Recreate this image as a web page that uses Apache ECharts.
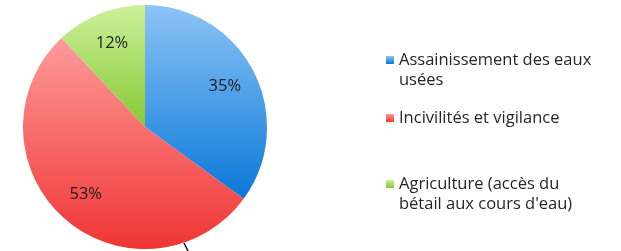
<!DOCTYPE html>
<html><head><meta charset="utf-8">
<script src="https://cdn.jsdelivr.net/npm/echarts@6/dist/echarts.min.js"></script>
<style>html,body{margin:0;padding:0;background:#fff}#c{width:621px;height:251px}</style>
</head><body><div id="c"></div>
<script>
const categories = ['Assainissement des eaux\nusées', 'Incivilités et vigilance', 'Agriculture (accès du\nbétail aux cours d\'eau)'];
const values = [35, 53, 12];
const labels = ['35%', '53%', '12%'];

const grads = [
  ['#8cc4f5', '#0a78d8'],
  ['#ff9a9a', '#f03535'],
  ['#cdf09a', '#86c935']
];
function grad(i) {
  return new echarts.graphic.LinearGradient(0, 0, 0, 1, [
    {offset: 0, color: grads[i][0]}, {offset: 1, color: grads[i][1]}
  ]);
}
const chart = echarts.init(document.getElementById('c'), null, {renderer: 'canvas'});
const R = 122;
const data = categories.map((n, i) => ({name: n, value: values[i], itemStyle: {color: grad(i)}}));
const labelData = categories.map((n, i) => ({name: n, value: values[i], label: {formatter: labels[i]}}));
const font = 'Open Sans, DejaVu Sans, sans-serif';
const legendTops = [30, 108, 154];
const tStyle = {fontFamily: font, fontSize: 16.5, color: '#262626', lineHeight: 20};
chart.setOption({
  animation: false,
  legend: categories.map((n, i) => ({
    data: [{name: n, icon: 'rect'}],
    formatter: (name) => name.indexOf('\n') >= 0 ? '\u00a0\n' + name : name,
    left: 386, top: legendTops[i],
    orient: 'vertical', itemWidth: 8, itemHeight: 8, itemGap: 8,
    selectedMode: false, padding: 0,
    textStyle: Object.assign({}, tStyle)
  })),
  graphic: [{type: 'line', shape: {x1: 184, y1: 243, x2: 188, y2: 251}, style: {stroke: '#111', lineWidth: 1.5}}],
  series: [{
    type: 'pie', center: [145, 127], radius: [0, R], startAngle: 90, clockwise: true,
    label: {show: false}, labelLine: {show: false}, silent: true,
    itemStyle: {borderWidth: 0},
    data: data
  }, {
    type: 'pie', center: [145, 127], radius: [R * 0.42, R], startAngle: 90, clockwise: true,
    itemStyle: {color: 'rgba(0,0,0,0)'}, silent: true, labelLine: {show: false},
    label: {show: true, position: 'inside', fontFamily: font, fontSize: 16.5, color: '#1e1e1e'},
    data: labelData
  }]
});
</script></body></html>
